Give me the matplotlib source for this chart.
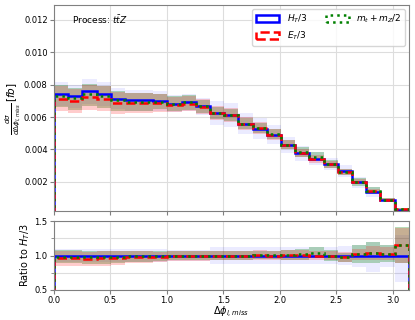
import numpy as np
import matplotlib
matplotlib.use('Agg')
import matplotlib.pyplot as plt
from matplotlib.patches import Patch
from matplotlib.ticker import MultipleLocator

# 25 bins in delta phi(l, miss) from 0 to pi
edges = np.linspace(0, np.pi, 26)

# H_T/3 central values [fb]
ht3 = [0.00744, 0.00728, 0.00759, 0.00744, 0.00714, 0.00703, 0.00703, 0.00699, 0.00683,
       0.00690, 0.00666, 0.00625, 0.00615, 0.00560, 0.00529, 0.00490, 0.00426, 0.00375,
       0.00342, 0.00307, 0.00268, 0.00196, 0.00138, 0.00087, 0.00028]
# ratios of the other scale choices to H_T/3
r_et3 = [0.96, 0.96, 0.95, 0.96, 0.965, 0.975, 0.975, 0.98, 0.99, 0.99, 0.995, 1.0, 1.0,
         1.0, 1.005, 1.0, 1.01, 1.01, 1.0, 1.0, 0.98, 1.02, 1.04, 1.025, 1.15]
r_mz = [0.985, 0.985, 0.975, 0.98, 0.985, 0.99, 0.99, 0.995, 1.0, 1.0, 1.0, 1.0, 1.0,
        1.0, 1.005, 1.01, 1.01, 1.02, 1.04, 1.0, 0.975, 1.02, 1.04, 1.025, 1.15]

# relative scale uncertainty (up / down) of each series
ht3_up = [0.10, 0.10, 0.10, 0.10, 0.09, 0.09, 0.09, 0.09, 0.08, 0.08, 0.08, 0.12, 0.12,
          0.12, 0.12, 0.12, 0.12, 0.12, 0.12, 0.12, 0.14, 0.16, 0.20, 0.16, 0.30]
ht3_dn = [0.10, 0.10, 0.10, 0.10, 0.09, 0.09, 0.09, 0.09, 0.08, 0.08, 0.08, 0.12, 0.12,
          0.12, 0.12, 0.12, 0.12, 0.12, 0.12, 0.12, 0.14, 0.17, 0.24, 0.17, 0.38]
et3_up = [0.11, 0.11, 0.11, 0.11, 0.10, 0.09, 0.09, 0.08, 0.07, 0.07, 0.07, 0.07, 0.07,
          0.07, 0.07, 0.07, 0.07, 0.07, 0.07, 0.07, 0.07, 0.08, 0.10, 0.09, 0.22]
et3_dn = [0.11, 0.11, 0.11, 0.11, 0.10, 0.09, 0.09, 0.08, 0.07, 0.07, 0.07, 0.07, 0.07,
          0.07, 0.07, 0.07, 0.07, 0.07, 0.07, 0.07, 0.07, 0.08, 0.10, 0.09, 0.23]
mz_up = [0.09, 0.09, 0.09, 0.09, 0.08, 0.08, 0.08, 0.07, 0.07, 0.07, 0.06, 0.06, 0.06,
         0.06, 0.06, 0.06, 0.07, 0.08, 0.08, 0.08, 0.07, 0.13, 0.15, 0.12, 0.23]
mz_dn = [0.10, 0.10, 0.10, 0.10, 0.09, 0.08, 0.08, 0.07, 0.07, 0.07, 0.06, 0.06, 0.06,
         0.06, 0.06, 0.06, 0.07, 0.08, 0.08, 0.08, 0.07, 0.13, 0.14, 0.12, 0.23]

ht3 = np.array(ht3)
et3 = ht3 * np.array(r_et3)
mz = ht3 * np.array(r_mz)

series = [
    (ht3, ht3_up, ht3_dn, 'blue', '-', 0.08, r'$H_T/3$'),
    (et3, et3_up, et3_dn, 'red', '--', 0.2, r'$E_T/3$'),
    (mz, mz_up, mz_dn, 'green', ':', 0.28, r'$m_t+m_Z/2$'),
]

fig = plt.figure(figsize=(4.15, 3.2), dpi=100)
ax = fig.add_axes([0.130, 0.341, 0.855, 0.642])
ax2 = fig.add_axes([0.130, 0.094, 0.855, 0.215], sharex=ax)

# bands: blue first, then green, red on top gives the brownish overlap
for i in (0, 2, 1):
    vals, up, dn, col, ls, a, lab = series[i]
    up = np.array(up)
    dn = np.array(dn)
    ax.stairs(vals * (1 + up), edges, baseline=vals * (1 - dn), fill=True, color=col, alpha=a, lw=0)
    ax2.stairs(vals * (1 + up) / ht3, edges, baseline=vals * (1 - dn) / ht3, fill=True,
               color=col, alpha=a, lw=0)

for vals, up, dn, col, ls, a, lab in series:
    ax.stairs(vals, edges, baseline=0, color=col, ls=ls, lw=1.8)
    ax2.stairs(vals / ht3, edges, baseline=0, color=col, ls=ls, lw=1.8)

ax.set_xlim(0, np.pi)
ax.set_ylim(0.0002, 0.0129)
ax.set_yticks([0.002, 0.004, 0.006, 0.008, 0.010, 0.012])
ax.set_ylabel(r'$\frac{d\sigma}{d\Delta\phi_{l,miss}}\,[fb]$', fontsize=7.5, labelpad=1)
ax.text(0.05, 0.93, r'Process: $t\bar{t}Z$', transform=ax.transAxes, fontsize=6.5, va='center')

handles = [Patch(facecolor='white', edgecolor=c, ls=l, lw=1.8, label=lb)
           for v, u, d, c, l, a, lb in series]
ax.legend(handles=handles, ncol=2, loc='upper right', fontsize=6.5, framealpha=0.8,
          handlelength=2.6, columnspacing=2.0, borderaxespad=0.4)

ax2.set_ylim(0.5, 1.5)
ax2.set_yticks([0.5, 1.0, 1.5])
ax2.yaxis.set_minor_locator(MultipleLocator(0.25))
ax2.set_ylabel(r'Ratio to $H_T/3$', fontsize=7, labelpad=2)
ax2.set_xlabel(r'$\Delta\phi_{l,miss}$', fontsize=7, labelpad=0)

plt.setp(ax.get_xticklabels(), visible=False)
for a in (ax, ax2):
    a.grid(True, which='major', color='#dddddd', lw=0.8)
    a.tick_params(labelsize=6, color='gray', length=3, width=0.8, pad=1.5)
    a.tick_params(which='minor', color='gray', length=2)
    for s in a.spines.values():
        s.set_color('gray')
ax2.grid(True, which='minor', axis='y', color='#dddddd', lw=0.8)
ax.set_axisbelow(True)
ax2.set_axisbelow(True)

fig.savefig('out.png', dpi=100)
